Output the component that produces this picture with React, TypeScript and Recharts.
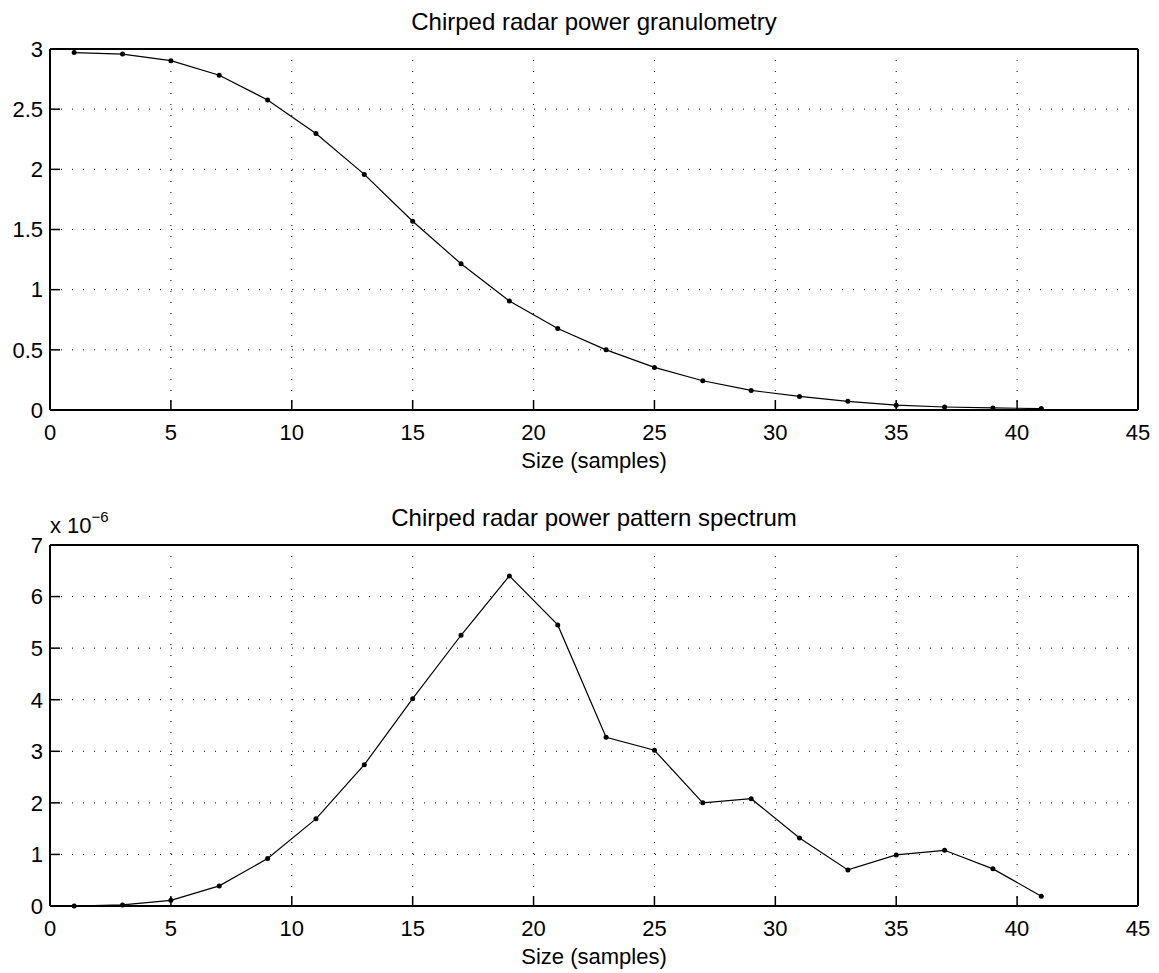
import React from 'react'
import { LineChart, Line, XAxis, YAxis, CartesianGrid } from 'recharts'

const SIZES = [1, 3, 5, 7, 9, 11, 13, 15, 17, 19, 21, 23, 25, 27, 29, 31, 33, 35, 37, 39, 41]
const GRANULOMETRY = [2.97, 2.958, 2.903, 2.782, 2.577, 2.298, 1.958, 1.569, 1.215, 0.906, 0.677,
  0.5, 0.354, 0.243, 0.163, 0.113, 0.072, 0.04, 0.025, 0.017, 0.012]
const PATTERN_SPECTRUM = [0, 0.02e-6, 0.11e-6, 0.39e-6, 0.92e-6, 1.69e-6, 2.74e-6, 4.02e-6, 5.25e-6,
  6.4e-6, 5.45e-6, 3.27e-6, 3.02e-6, 2.0e-6, 2.08e-6, 1.32e-6, 0.7e-6, 0.99e-6, 1.08e-6, 0.72e-6, 0.19e-6]

const X_TICKS = [0, 5, 10, 15, 20, 25, 30, 35, 40, 45]
const TOP_Y_TICKS = [0, 0.5, 1, 1.5, 2, 2.5, 3]
const BOTTOM_Y_TICKS = [0, 1e-6, 2e-6, 3e-6, 4e-6, 5e-6, 6e-6, 7e-6]

const TOP_TITLE = 'Chirped radar power granulometry'
const BOTTOM_TITLE = 'Chirped radar power pattern spectrum'
const X_LABEL = 'Size (samples)'

const FONT = '"Liberation Sans", Arial, Helvetica, sans-serif'
const W = 1159
const H = 480
const axisStyle = { stroke: '#000', strokeWidth: 2 }
const tickLineStyle = { stroke: '#000', strokeWidth: 1.5 }
const tickStyle = { fill: '#000', fontSize: 22, fontFamily: FONT }

const topData = SIZES.map((s, i) => ({ size: s, value: GRANULOMETRY[i] }))
const bottomData = SIZES.map((s, i) => ({ size: s, value: PATTERN_SPECTRUM[i] }))

function Panel({ data, yTicks, yMax, fmt }: {
  data: { size: number; value: number }[]; yTicks: number[]; yMax: number; fmt?: (v: number) => string
}) {
  return (
    <LineChart width={W} height={H} data={data} margin={{ top: 48, right: 20, bottom: 0, left: 0 }}>
      <CartesianGrid stroke="#000" strokeDasharray="1 10" strokeWidth={1} />
      <XAxis dataKey="size" type="number" domain={[0, 45]} ticks={X_TICKS} interval={0}
        height={70} tickSize={-10} tickMargin={24} axisLine={axisStyle} tickLine={tickLineStyle}
        tick={tickStyle} />
      <XAxis xAxisId="top" dataKey="size" orientation="top" type="number" domain={[0, 45]} ticks={X_TICKS}
        interval={0} height={1} tickSize={-10} axisLine={axisStyle} tickLine={tickLineStyle}
        tick={false} />
      <YAxis type="number" domain={[0, yMax]} ticks={yTicks} interval={0} width={50}
        tickSize={-10} tickMargin={17} axisLine={axisStyle} tickLine={tickLineStyle}
        tick={tickStyle} tickFormatter={fmt} />
      <YAxis yAxisId="right" orientation="right" type="number" domain={[0, yMax]} ticks={yTicks}
        interval={0} width={1} tickSize={-10} axisLine={axisStyle} tickLine={tickLineStyle}
        tick={false} />
      {/* invisible series so the box axes (top/right) get a scale */}
      <Line xAxisId="top" yAxisId="right" dataKey="value" stroke="none" dot={false}
        activeDot={false} isAnimationActive={false} />
      <Line dataKey="value" type="linear" stroke="#000" strokeWidth={1.2}
        dot={{ r: 2.5, fill: '#000', stroke: '#000', strokeWidth: 0 }} isAnimationActive={false} />
    </LineChart>
  )
}

const textBase: React.CSSProperties = {
  position: 'absolute', left: 50, width: 1088, textAlign: 'center',
  fontFamily: FONT, fontSize: 22, lineHeight: '22px', color: '#000', whiteSpace: 'nowrap',
}

export default function App() {
  return (
    <div style={{ position: 'absolute', left: 0, top: 0, width: W, height: 973, background: '#fff', fontFamily: FONT }}>
      <div style={{ position: 'absolute', left: 0, top: 0 }}>
        <Panel data={topData} yTicks={TOP_Y_TICKS} yMax={3} />
      </div>
      <div style={{ ...textBase, top: 10, fontSize: 24, lineHeight: '24px' }}>{TOP_TITLE}</div>
      <div style={{ ...textBase, top: 450 }}>{X_LABEL}</div>

      <div style={{ position: 'absolute', left: 0, top: 496 }}>
        <Panel data={bottomData} yTicks={BOTTOM_Y_TICKS} yMax={7e-6}
          fmt={(v: number) => String(Math.round(v * 1e6))} />
      </div>
      <div style={{ ...textBase, top: 506, fontSize: 24, lineHeight: '24px' }}>{BOTTOM_TITLE}</div>
      <div style={{ ...textBase, top: 946 }}>{X_LABEL}</div>
      <div style={{ position: 'absolute', left: 50, top: 515, fontFamily: FONT, fontSize: 22, lineHeight: '22px', whiteSpace: 'nowrap' }}>
        x 10<span style={{ fontSize: 15, position: 'relative', top: -11 }}>−6</span>
      </div>
    </div>
  )
}
